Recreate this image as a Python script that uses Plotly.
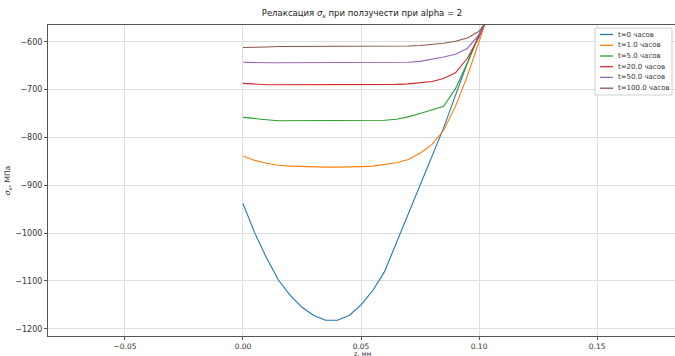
import plotly.graph_objects as go

z = [0.0, 0.005, 0.010, 0.015, 0.020, 0.025, 0.030, 0.035, 0.040, 0.045, 0.050,
     0.055, 0.060, 0.065, 0.070, 0.075, 0.080, 0.085, 0.090, 0.095, 0.100, 0.1025]

s_t0 = [-938, -1000, -1052, -1098, -1130, -1155, -1172, -1182, -1182, -1172, -1150,
        -1120, -1080, -1020, -962, -903, -843, -780, -712, -645, -585, -562]
s_t1 = [-839, -848, -854, -858, -860, -861, -862, -862, -862, -862, -861,
        -860, -857, -853, -846, -833, -815, -785, -735, -672, -600, -562]
s_t5 = [-758, -761, -763, -765, -765, -765, -765, -765, -765, -765, -765,
        -765, -764, -762, -757, -750, -742, -735, -698, -645, -585, -562]
s_t20 = [-687, -689, -690, -690, -690, -690, -690, -690, -690, -690, -690,
         -690, -690, -689, -688, -686, -683, -677, -665, -635, -590, -562]
s_t50 = [-643, -644, -644, -644, -644, -644, -644, -644, -644, -644, -644,
         -644, -644, -644, -643, -641, -637, -632, -626, -614, -585, -562]
s_t100 = [-612, -612, -611, -610, -610, -610, -610, -610, -610, -610, -610,
          -610, -610, -610, -609, -608, -606, -603, -599, -592, -578, -562]

labels = ["t=0 часов", "t=1.0 часов", "t=5.0 часов", "t=20.0 часов", "t=50.0 часов", "t=100.0 часов"]
colors = ["#1f77b4", "#ff7f0e", "#2ca02c", "#d62728", "#9467bd", "#8c564b"]
series = [s_t0, s_t1, s_t5, s_t20, s_t50, s_t100]

x_ticks = [-0.05, 0.0, 0.05, 0.10, 0.15]
x_ticklabels = ["−0.05", "0.00", "0.05", "0.10", "0.15"]
y_ticks = [-1200, -1100, -1000, -900, -800, -700, -600]
y_ticklabels = ["−1200", "−1100", "−1000", "−900", "−800", "−700", "−600"]

W, H = 675, 356
L, R, T, B = 48, 0, 25, 20
pw, ph = W - L - R, H - T - B


def px_x(p):
    return (p - L) / pw


def px_y(p):
    return (H - B - p) / ph


fig = go.Figure()
for lab, col, s in zip(labels, colors, series):
    fig.add_trace(go.Scatter(x=z, y=s, mode="lines", name=lab,
                             line=dict(color=col, width=1.1), showlegend=False))

# compact legend box (matplotlib style)
shapes = [dict(type="rect", xref="paper", yref="paper",
               x0=px_x(595), x1=px_x(672), y0=px_y(95), y1=px_y(28),
               line=dict(color="#d0d0d0", width=1), fillcolor="rgba(255,255,255,0.9)",
               layer="above")]
annotations = []
row_y = [34.5, 45.3, 56.0, 66.7, 77.4, 88.2]
for lab, col, ry in zip(labels, colors, row_y):
    shapes.append(dict(type="line", xref="paper", yref="paper",
                       x0=px_x(600), x1=px_x(613), y0=px_y(ry), y1=px_y(ry),
                       line=dict(color=col, width=1.3), layer="above"))
    annotations.append(dict(xref="paper", yref="paper", x=px_x(616), y=px_y(ry),
                            text=lab, showarrow=False, xanchor="left", yanchor="middle",
                            font=dict(family="DejaVu Sans", size=7, color="#333333")))

# x-axis title placed like the reference (near the bottom edge)
annotations.append(dict(xref="paper", yref="paper", x=px_x(362), y=px_y(347.5),
                        text="z, мм", showarrow=False, xanchor="center", yanchor="top",
                        font=dict(family="DejaVu Sans", size=6.5, color="#333333")))

font = dict(family="DejaVu Sans", size=8, color="#333333")
fig.update_layout(
    width=W, height=H,
    margin=dict(l=L, r=R, t=T, b=B),
    paper_bgcolor="white", plot_bgcolor="white",
    font=font,
    title=dict(text="Релаксация <i>σ<sub>x</sub></i> при ползучести при alpha = 2",
               x=(362) / W, xanchor="center", xref="container",
               y=1 - 13 / H, yanchor="middle", yref="container", automargin=False,
               font=dict(family="DejaVu Sans", size=8.5, color="#222222")),
    shapes=shapes,
    annotations=annotations,
    showlegend=False,
)
fig.update_xaxes(range=[-0.0826, 0.183], tickvals=x_ticks, ticktext=x_ticklabels,
                 showgrid=True, gridcolor="#dedede", gridwidth=1,
                 showline=True, linecolor="#555555", linewidth=1, mirror=True,
                 ticks="outside", ticklen=3, tickcolor="#555555", zeroline=False,
                 automargin=False, tickfont=dict(size=7.5))
fig.update_yaxes(range=[-1215, -565], tickvals=y_ticks, ticktext=y_ticklabels,
                 showgrid=True, gridcolor="#dedede", gridwidth=1,
                 showline=True, linecolor="#555555", linewidth=1, mirror=True,
                 ticks="outside", ticklen=3, tickcolor="#555555", zeroline=False,
                 automargin=False,
                 title=dict(text="<i>σ<sub>x</sub></i>, МПа", standoff=3, font=dict(size=7.5)))

fig.write_html("out.html", config={"displayModeBar": False},
               post_script="document.body.style.margin='0';document.body.style.padding='0';")
